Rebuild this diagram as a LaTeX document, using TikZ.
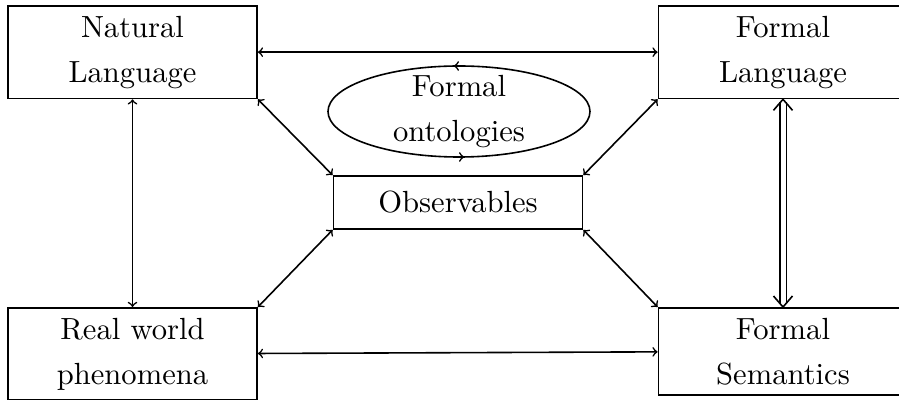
\documentclass[tikz,border=0pt]{standalone}
\usepackage{fontspec}
\setmainfont{lmroman10-regular.otf}
\usetikzlibrary{decorations.markings,calc}
\begin{document}
\begin{tikzpicture}[x=0.5pt,y=-0.5pt,
  box/.style={draw, line width=0.9pt, minimum width=124.5pt, inner xsep=4pt, inner ysep=5pt, align=center, font=\fontsize{15.3}{22.5}\selectfont},
  link/.style={<->, line width=0.8pt},
  barb/.style={line width=0.8pt},
  lbl/.style={align=center, font=\fontsize{15.3}{22.5}\selectfont, inner sep=0pt}]
\useasboundingbox (0,0) rectangle (899,400);
\clip (0,0) rectangle (899,400);
\node[box, anchor=north] (nl) at (132.5,5) {Natural\\Language};
\node[box, anchor=north] (fl) at (783,5) {Formal\\Language};
\node[box, anchor=north] (rw) at (132.5,307) {Real world\\phenomena};
\node[box, anchor=north] (fs) at (783,307) {Formal\\Semantics};
\node[box, minimum height=26.5pt] (obs) at (458,202.5) {Observables};
\draw[line width=0.8pt, postaction=decorate,
  decoration={markings, mark=at position 0.25 with {\arrow{<}}, mark=at position 0.75 with {\arrow{<}}}]
  (459,111.5) ellipse [x radius=131, y radius=45.5];
\node[lbl] (ont) at (459,111.5) {Formal\\ontologies};
\draw[link] (nl) -- (fl);
\draw[link] (nl) -- (rw);
\draw[link] (rw) -- (fs);
% double-line arrow
\draw[line width=0.8pt, double, double distance=2.5pt, shorten <=1.5pt, shorten >=1.5pt] (fl) -- (fs);
\draw[barb] ($(fl.south)+(-9.5,11)$) .. controls ($(fl.south)+(-3.5,4)$) .. (fl.south)
            .. controls ($(fl.south)+(3.5,4)$) .. ($(fl.south)+(9.5,11)$);
\draw[barb] ($(fs.north)+(-9.5,-11)$) .. controls ($(fs.north)+(-3.5,-4)$) .. (fs.north)
            .. controls ($(fs.north)+(3.5,-4)$) .. ($(fs.north)+(9.5,-11)$);
\draw[link] (nl.south east) -- (obs.north west);
\draw[link] (fl.south west) -- (obs.north east);
\draw[link] (rw.north east) -- (obs.south west);
\draw[link] (fs.north west) -- (obs.south east);
\end{tikzpicture}
\end{document}
